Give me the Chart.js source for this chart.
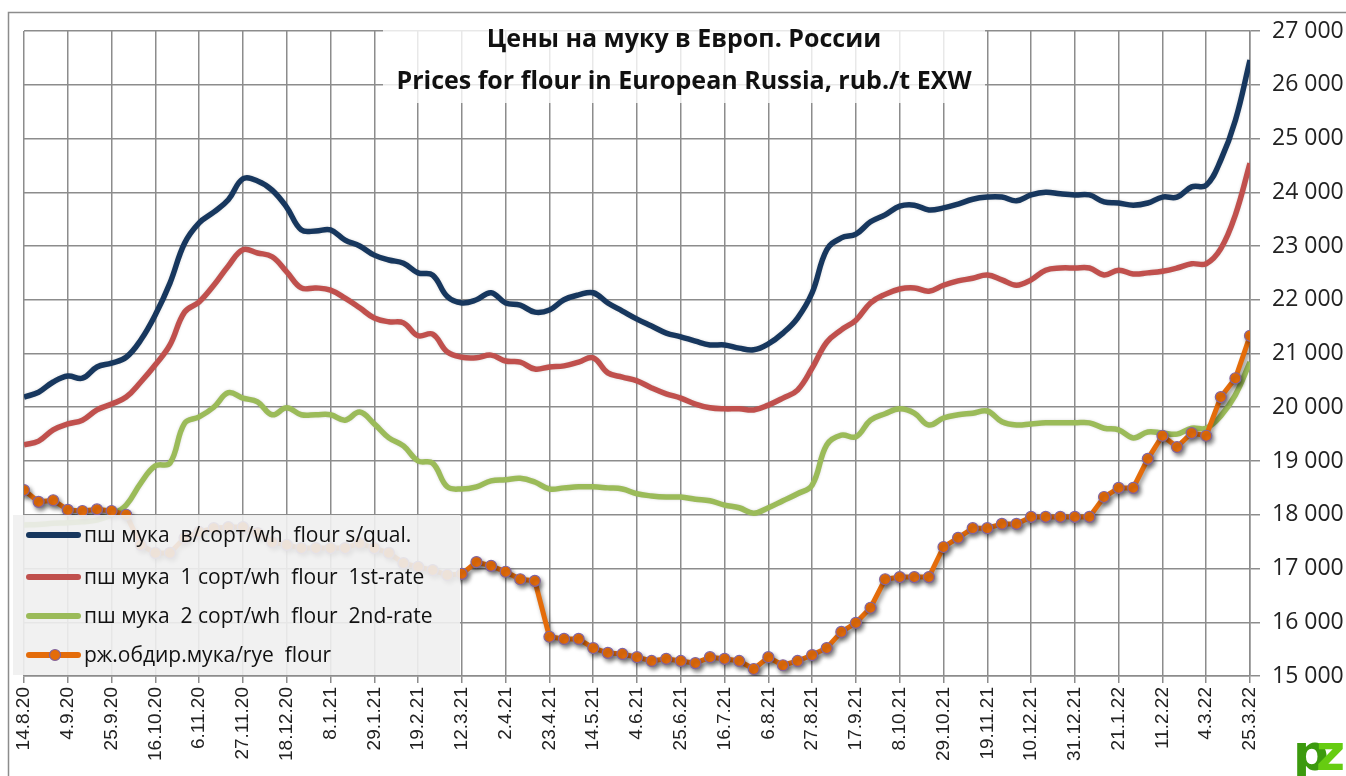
<!DOCTYPE html>
<html>
<head>
<meta charset="utf-8">
<script src="https://cdn.jsdelivr.net/npm/chart.js@4.4.1/dist/chart.umd.min.js"></script>
<style>
  html, body { margin: 0; padding: 0; background: #fff; }
  canvas { display: block; }
</style>
</head>
<body>
<canvas id="flourChart" width="1346" height="776"></canvas>
<script>
// week tick labels (every 3rd week is labelled)
const tickLabels = ['14.8.20', '4.9.20', '25.9.20', '16.10.20', '6.11.20', '27.11.20', '18.12.20',
    '8.1.21', '29.1.21', '19.2.21', '12.3.21', '2.4.21', '23.4.21', '14.5.21', '4.6.21', '25.6.21',
    '16.7.21', '6.8.21', '27.8.21', '17.9.21', '8.10.21', '29.10.21', '19.11.21', '10.12.21',
    '31.12.21', '21.1.22', '11.2.22', '4.3.22', '25.3.22'];

const seriesNames = ['пш мука  в/сорт/wh  flour s/qual.', 'пш мука  1 сорт/wh  flour  1st-rate',
    'пш мука  2 сорт/wh  flour  2nd-rate', 'рж.обдир.мука/rye  flour'];

// weekly prices, rub./t
const wheatTop = [20190, 20280, 20470, 20580, 20540, 20750, 20820, 20930, 21250, 21720,
    22310, 23050, 23430, 23630, 23860, 24250, 24210, 24040, 23720, 23300,
    23280, 23300, 23110, 23000, 22830, 22740, 22680, 22500, 22460, 22060,
    21940, 22000, 22130, 21940, 21900, 21770, 21810, 22000, 22090, 22130,
    21940, 21790, 21640, 21510, 21380, 21310, 21230, 21160, 21160, 21100,
    21070, 21180, 21380, 21660, 22130, 22930, 23150, 23220, 23450, 23580,
    23740, 23760, 23670, 23710, 23780, 23870, 23910, 23910, 23840, 23950,
    24000, 23970, 23950, 23950, 23820, 23800, 23760, 23800, 23910, 23910,
    24100, 24130, 24600, 25340, 26460];
const wheat1 = [19300, 19370, 19580, 19690, 19760, 19950, 20060, 20190, 20470, 20790,
    21160, 21770, 21960, 22270, 22630, 22930, 22870, 22800, 22520, 22220,
    22220, 22180, 22030, 21850, 21660, 21590, 21570, 21330, 21360, 21030,
    20930, 20920, 20970, 20860, 20840, 20710, 20750, 20770, 20840, 20920,
    20640, 20560, 20490, 20360, 20250, 20170, 20060, 19990, 19970, 19970,
    19950, 20040, 20170, 20320, 20730, 21210, 21440, 21620, 21940, 22100,
    22200, 22220, 22160, 22270, 22350, 22400, 22460, 22370, 22270, 22370,
    22550, 22590, 22590, 22590, 22460, 22550, 22480, 22500, 22530, 22590,
    22670, 22670, 22950, 23580, 24540];
const wheat2 = [17810, 17820, 17840, 17850, 17870, 17900, 18000, 18180, 18590, 18910,
    18960, 19700, 19820, 20000, 20270, 20170, 20100, 19860, 19990, 19860,
    19860, 19860, 19760, 19910, 19690, 19430, 19280, 19000, 18960, 18520,
    18480, 18520, 18630, 18650, 18680, 18610, 18480, 18500, 18520, 18520,
    18500, 18480, 18390, 18350, 18330, 18330, 18290, 18260, 18180, 18130,
    18030, 18130, 18260, 18390, 18550, 19300, 19480, 19450, 19760, 19880,
    19970, 19890, 19670, 19800, 19860, 19890, 19930, 19730, 19670, 19690,
    19710, 19710, 19710, 19710, 19610, 19580, 19430, 19540, 19520, 19500,
    19610, 19610, 19840, 20230, 20840];
const rye = [18460, 18240, 18270, 18090, 18070, 18100, 18070, 18000, 17440, 17290,
    17290, 17570, 17680, 17750, 17770, 17770, 17660, 17490, 17440, 17380,
    17380, 17380, 17380, 17470, 17380, 17290, 17100, 17030, 16970, 16880,
    16900, 17120, 17050, 16940, 16800, 16770, 15730, 15690, 15690, 15520,
    15430, 15410, 15350, 15280, 15320, 15280, 15240, 15350, 15320, 15280,
    15130, 15350, 15200, 15280, 15390, 15520, 15820, 15990, 16270, 16800,
    16840, 16840, 16840, 17400, 17570, 17750, 17750, 17830, 17830, 17960,
    17960, 17960, 17960, 17960, 18330, 18500, 18500, 19040, 19470, 19260,
    19520, 19470, 20190, 20540, 21330];

const colors = ['#17375E', '#C0504D', '#9BBB59', '#E46C0A'];

const toPoints = arr => arr.map((v, i) => ({ x: i, y: v }));

const shadowPlugin = {
    id: 'lineShadow',
    beforeDatasetDraw(chart, args) {
        const ctx = chart.ctx;
        ctx.save();
        if (args.index === 3) {
            ctx.shadowColor = 'rgba(0,0,0,0.4)';
            ctx.shadowOffsetX = 2;
            ctx.shadowOffsetY = 3;
            ctx.shadowBlur = 4;
        } else {
            ctx.shadowColor = 'rgba(0,0,0,0.15)';
            ctx.shadowBlur = 3;
        }
    },
    afterDatasetDraw(chart) {
        chart.ctx.restore();
    }
};

const framePlugin = {
    id: 'frame',
    beforeDraw(chart) {
        const ctx = chart.ctx;
        ctx.save();
        ctx.fillStyle = '#fff';
        ctx.fillRect(0, 0, chart.width, chart.height);
        ctx.strokeStyle = '#8c8c8c';
        ctx.lineWidth = 1.5;
        ctx.strokeRect(8.5, 12.5, chart.width + 20, chart.height + 20);
        ctx.restore();
    },
    afterDraw(chart) {
        const ctx = chart.ctx;
        ctx.save();

        // title box
        ctx.fillStyle = 'rgba(255,255,255,0.8)';
        ctx.fillRect(383, 18, 602, 85);
        ctx.fillStyle = '#111';
        ctx.font = 'bold 25px "Open Sans"';
        ctx.textAlign = 'center';
        ctx.textBaseline = 'middle';
        ctx.fillText('Цены на муку в Европ. России', 684, 40);
        ctx.fillText('Prices for flour in European Russia, rub./t EXW', 684, 82);

        // legend box
        ctx.fillStyle = 'rgba(240,240,240,0.9)';
        ctx.fillRect(13, 515, 447, 160);
        const rows = [535, 577, 616, 655];
        ctx.textAlign = 'left';
        ctx.font = '21px "Open Sans"';
        rows.forEach((y, i) => {
            ctx.strokeStyle = colors[i];
            ctx.lineWidth = 6;
            ctx.lineCap = 'round';
            ctx.beginPath();
            ctx.moveTo(29, y);
            ctx.lineTo(78, y);
            ctx.stroke();
            if (i === 3) {
                ctx.beginPath();
                ctx.arc(55, y, 5.5, 0, Math.PI * 2);
                ctx.fillStyle = colors[3];
                ctx.fill();
                ctx.strokeStyle = '#8064A2';
                ctx.lineWidth = 1.2;
                ctx.stroke();
            }
            ctx.fillStyle = '#111';
            ctx.fillText(seriesNames[i], 84, y + 1);
        });

        // logo
        ctx.font = 'bold 50px "DejaVu Sans"';
        ctx.textAlign = 'left';
        ctx.textBaseline = 'alphabetic';
        ctx.fillStyle = '#3C9A0E';
        ctx.fillText('p', 1293, 770);
        ctx.fillStyle = '#66CC11';
        ctx.fillText('z', 1316, 770);
        ctx.restore();
    }
};

const lineSet = (i, data) => ({
    label: seriesNames[i],
    data: toPoints(data),
    borderColor: colors[i],
    backgroundColor: colors[i],
    borderWidth: 5.5,
    pointRadius: 0,
    tension: 0.4,
    fill: false,
    order: 4 - i
});

new Chart(document.getElementById('flourChart'), {
    type: 'line',
    data: {
        datasets: [
            lineSet(0, wheatTop),
            lineSet(1, wheat1),
            lineSet(2, wheat2),
            {
                label: seriesNames[3],
                data: toPoints(rye),
                borderColor: colors[3],
                backgroundColor: colors[3],
                borderWidth: 5,
                pointRadius: 5.5,
                pointBorderColor: '#8064A2',
                pointBorderWidth: 1.2,
                pointBackgroundColor: colors[3],
                tension: 0,
                fill: false,
                order: 0
            }
        ]
    },
    options: {
        responsive: false,
        animation: false,
        devicePixelRatio: 1,
        layout: { padding: { left: 24, top: 31, right: 0, bottom: 0 } },
        plugins: { legend: { display: false }, title: { display: false }, tooltip: { enabled: false } },
        scales: {
            x: {
                type: 'linear',
                min: 0,
                max: 84,
                afterFit: s => { s.height = 100; },
                ticks: {
                    stepSize: 3,
                    autoSkip: false,
                    maxRotation: 90,
                    minRotation: 90,
                    padding: 4,
                    color: '#222',
                    font: { family: 'Liberation Sans', size: 19 },
                    callback: v => tickLabels[v / 3]
                },
                grid: { color: '#8c8c8c', lineWidth: 1.5, tickLength: 7 },
                border: { color: '#8c8c8c', width: 1.5 }
            },
            y: {
                position: 'right',
                min: 15000,
                max: 27000,
                afterFit: s => { s.width = 96; },
                ticks: {
                    stepSize: 1000,
                    padding: 12,
                    color: '#222',
                    font: { family: 'Open Sans', size: 23 },
                    callback: v => String(v).replace(/\B(?=(\d{3})+(?!\d))/g, ' ')
                },
                grid: { color: '#8c8c8c', lineWidth: 1.5, tickLength: 10 },
                border: { color: '#8c8c8c', width: 1.5 }
            }
        }
    },
    plugins: [framePlugin, shadowPlugin]
});
</script>
</body>
</html>
